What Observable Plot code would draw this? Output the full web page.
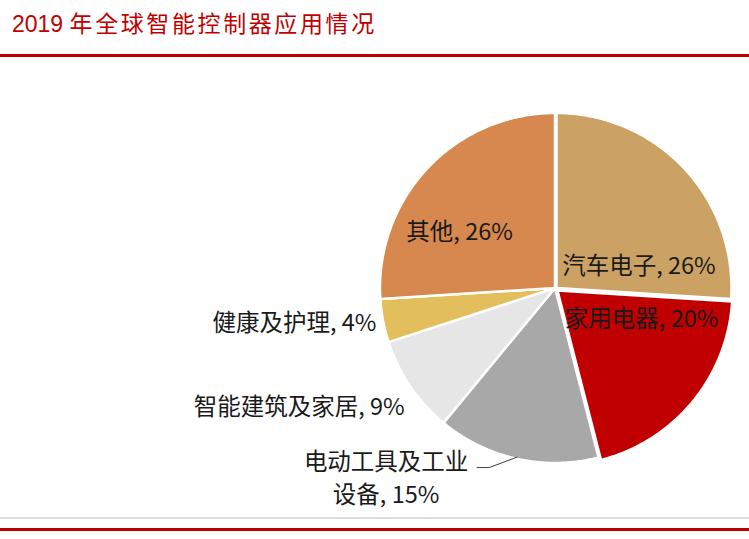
<!DOCTYPE html>
<html><head><meta charset="utf-8">
<script src="https://cdn.jsdelivr.net/npm/d3@7"></script>
<script src="https://cdn.jsdelivr.net/npm/@observablehq/plot@0.6"></script>
<style>
body{margin:0;background:#fff;}
#page{position:relative;width:749px;height:539px;overflow:hidden;background:#fff;font-family:"Noto Sans CJK SC",sans-serif;}
#title{position:absolute;left:12px;top:10px;font-size:23px;line-height:24px;color:#C00000;white-space:nowrap;font-family:"Liberation Sans","Noto Sans CJK SC",sans-serif;}
#title .cjk{letter-spacing:2.6px;font-family:"Noto Sans CJK SC",sans-serif;}
#rule-top{position:absolute;left:0;top:54px;width:749px;height:3px;background:#C00000;}
#chart{position:absolute;left:0;top:58px;}
#rule-grey{position:absolute;left:0;top:517px;width:749px;height:2px;background:#DCDCDC;}
#rule-bottom{position:absolute;left:0;top:528px;width:749px;height:3px;background:#C00000;}
</style></head><body>
<div id="page">
  <div id="title">2019 <span class="cjk">年全球智能控制器应用情况</span></div>
  <div id="rule-top"></div>
  <div id="chart"></div>
  <div id="rule-grey"></div>
  <div id="rule-bottom"></div>
</div>
<script>
// ---- data ----
const categories = ["汽车电子", "家用电器", "电动工具及工业设备", "智能建筑及家居", "健康及护理", "其他"];
const shares = [26, 20, 15, 9, 4, 26];
const labelTexts = ["汽车电子, 26%", "家用电器, 20%", "电动工具及工业\n设备, 15%", "智能建筑及家居, 9%", "健康及护理, 4%", "其他, 26%"];
const sliceColors = ["#CBA264", "#C00000", "#A9A8A8", "#E6E6E6", "#E2BF5C", "#D6884F"];

// ---- layout (unit-circle coordinates, separate from data) ----
const labelPos = [[0.48, 0.14], [0.495, -0.165], [-0.965, -1.075], [-0.859, -0.68], [-1.02, -0.20], [-0.545, 0.335]];
const labelAnchor = ["middle", "middle", "middle", "end", "end", "middle"];
const explodePx = [[1.5, 0], [2.5, -2.5], [0, 0], [0, 0], [0, 0], [0, 0]];
const leaderFrom = [[-0.445, -1.026], [-0.376, -1.026]];

const W = 749, H = 455;
const R = 175, cx = 554.5, cy = 287.5 - 58;
const total = d3.sum(shares);

const rows = [];
let cum = 0;
const mids = [];
categories.forEach((c, i) => {
  const a0 = cum / total * 2 * Math.PI;
  cum += shares[i];
  const a1 = cum / total * 2 * Math.PI;
  mids.push((a0 + a1) / 2);
  const ox = explodePx[i][0] / R, oy = explodePx[i][1] / R;
  rows.push({cat: c, x: ox, y: oy});
  const n = Math.max(2, Math.ceil((a1 - a0) / (Math.PI / 360)));
  for (let k = 0; k <= n; k++) {
    const a = a0 + (a1 - a0) * k / n;
    rows.push({cat: c, x: ox + Math.sin(a), y: oy + Math.cos(a)});
  }
});

const labels = categories.map((c, i) => ({cat: c, text: labelTexts[i], x: labelPos[i][0], y: labelPos[i][1], anchor: labelAnchor[i]}));
const iTool = 2;
const leader = [
  {x: leaderFrom[0][0], y: leaderFrom[0][1]},
  {x: leaderFrom[1][0], y: leaderFrom[1][1]},
  {x: Math.sin(mids[iTool]) * 0.99, y: Math.cos(mids[iTool]) * 0.99}
];

const font = '"Liberation Sans Narrow","Arial Narrow","Noto Sans CJK SC",sans-serif';

const chart = Plot.plot({
  width: W, height: H, margin: 0,
  style: {background: "transparent", overflow: "visible"},
  x: {domain: [-1, 1], range: [cx - R, cx + R], axis: null},
  y: {domain: [-1, 1], range: [cy + R, cy - R], axis: null},
  color: {domain: categories, range: sliceColors},
  marks: [
    Plot.line(rows, {x: "x", y: "y", z: "cat", fill: "cat", stroke: "white", strokeWidth: 2.5, curve: "linear-closed"}),
    Plot.line(leader, {x: "x", y: "y", stroke: "#404040", strokeWidth: 1}),
    Plot.text(labels.filter(d => d.anchor === "middle"), {x: "x", y: "y", text: "text", textAnchor: "middle", lineAnchor: "middle", lineHeight: 1.4, fontSize: 23.5, fontFamily: font, fill: "#1a1a1a"}),
    Plot.text(labels.filter(d => d.anchor === "end"), {x: "x", y: "y", text: "text", textAnchor: "end", lineAnchor: "middle", fontSize: 23.5, fontFamily: font, fill: "#1a1a1a"})
  ]
});
document.getElementById("chart").appendChild(chart);
</script>
</body></html>
